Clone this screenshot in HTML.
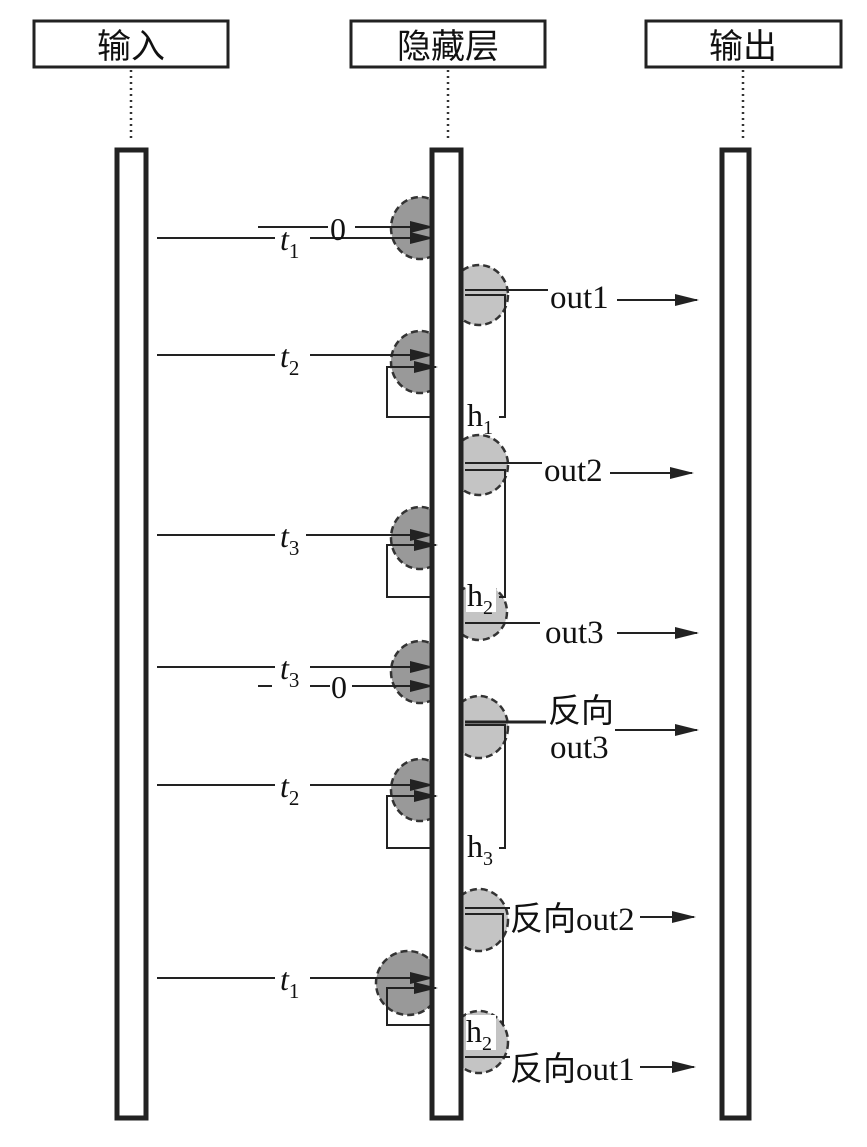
<!DOCTYPE html>
<html><head><meta charset="utf-8"><style>
html,body{margin:0;padding:0;background:#fff}
svg{display:block}
text{font-family:"Liberation Serif","Noto Serif CJK SC",serif;fill:#111}
.cn{font-family:"Liberation Serif","Noto Sans CJK SC",sans-serif}
</style></head><body>
<svg width="867" height="1147" viewBox="0 0 867 1147" xmlns="http://www.w3.org/2000/svg">
<defs>
<marker id="a" markerWidth="24" markerHeight="14" refX="22" refY="7" orient="auto" markerUnits="userSpaceOnUse">
<path d="M0,1 L24,7 L0,13 Z" fill="#222"/></marker>
</defs>
<g stroke="#222" stroke-width="3" fill="#fff">
<rect x="34" y="21" width="194" height="46"/>
<rect x="351" y="21" width="194" height="46"/>
<rect x="646" y="21" width="195" height="46"/>
</g>
<text x="131" y="58" font-size="34" text-anchor="middle" class="cn">输入</text>
<text x="448" y="58" font-size="34" text-anchor="middle" class="cn">隐藏层</text>
<text x="743" y="58" font-size="34" text-anchor="middle" class="cn">输出</text>
<g stroke="#333" stroke-width="2.5" stroke-dasharray="2,4">
<line x1="131" y1="70" x2="131" y2="140"/><line x1="448" y1="70" x2="448" y2="140"/><line x1="743" y1="70" x2="743" y2="140"/>
</g>
<g fill="#999" stroke="#333" stroke-width="2.5" stroke-dasharray="7,4">
<ellipse cx="420" cy="228" rx="29" ry="31"/><ellipse cx="420" cy="362" rx="29" ry="31"/><ellipse cx="420" cy="538" rx="29" ry="31"/>
<ellipse cx="420" cy="672" rx="29" ry="31"/><ellipse cx="420" cy="790" rx="29" ry="31"/><ellipse cx="408" cy="983" rx="32" ry="32"/>
</g>
<g fill="#c4c4c4" stroke="#333" stroke-width="2.5" stroke-dasharray="7,4">
<ellipse cx="479" cy="295" rx="29" ry="30"/><ellipse cx="479" cy="465" rx="29" ry="30"/><ellipse cx="479" cy="612" rx="28" ry="28"/>
<ellipse cx="479" cy="727" rx="29" ry="31"/><ellipse cx="479" cy="920" rx="29" ry="31"/><ellipse cx="479" cy="1042" rx="29" ry="31"/>
</g>
<g stroke="#222" stroke-width="5" fill="#fff">
<rect x="117" y="150" width="29" height="968"/>
<rect x="432" y="150" width="29" height="968"/>
<rect x="722" y="150" width="27" height="968"/>
</g>
<g stroke="#222" stroke-width="2" fill="none">
<line x1="157" y1="238" x2="275" y2="238"/><line x1="310" y1="238" x2="432" y2="238" marker-end="url(#a)"/>
<line x1="258" y1="227" x2="328" y2="227"/><line x1="355" y1="227" x2="432" y2="227" marker-end="url(#a)"/>
<line x1="157" y1="355" x2="275" y2="355"/><line x1="310" y1="355" x2="432" y2="355" marker-end="url(#a)"/>
<line x1="157" y1="535" x2="275" y2="535"/><line x1="306" y1="535" x2="432" y2="535" marker-end="url(#a)"/>
<line x1="157" y1="667" x2="275" y2="667"/><line x1="310" y1="667" x2="432" y2="667" marker-end="url(#a)"/>
<line x1="258" y1="686" x2="272" y2="686"/><line x1="310" y1="686" x2="330" y2="686"/><line x1="352" y1="686" x2="432" y2="686" marker-end="url(#a)"/>
<line x1="157" y1="785" x2="275" y2="785"/><line x1="310" y1="785" x2="432" y2="785" marker-end="url(#a)"/>
<line x1="157" y1="978" x2="275" y2="978"/><line x1="310" y1="978" x2="432" y2="978" marker-end="url(#a)"/>
<polyline points="432,417 387,417 387,367 436,367" marker-end="url(#a)"/>
<polyline points="432,597 387,597 387,545 436,545" marker-end="url(#a)"/>
<polyline points="432,848 387,848 387,796 436,796" marker-end="url(#a)"/>
<polyline points="432,1025 387,1025 387,988 436,988" marker-end="url(#a)"/>
<line x1="465" y1="290" x2="548" y2="290"/><polyline points="465,295 505,295 505,417 499,417"/>
<line x1="617" y1="300" x2="697" y2="300" marker-end="url(#a)"/>
<line x1="465" y1="463" x2="542" y2="463"/><polyline points="465,470 505,470 505,597 499,597"/>
<line x1="610" y1="473" x2="692" y2="473" marker-end="url(#a)"/>
<line x1="465" y1="623" x2="540" y2="623"/>
<line x1="617" y1="633" x2="697" y2="633" marker-end="url(#a)"/>
<line x1="465" y1="722" x2="546" y2="722" stroke-width="3"/><polyline points="465,725 505,725 505,848 499,848"/>
<line x1="615" y1="730" x2="697" y2="730" marker-end="url(#a)"/>
<line x1="465" y1="908" x2="510" y2="908"/><polyline points="465,914 503,914 503,1025"/>
<line x1="640" y1="917" x2="694" y2="917" marker-end="url(#a)"/>
<line x1="465" y1="1057" x2="510" y2="1057"/>
<line x1="640" y1="1067" x2="694" y2="1067" marker-end="url(#a)"/>
</g>
<g fill="#fff">
<rect x="466" y="400" width="30" height="32"/><rect x="466" y="580" width="30" height="32"/>
<rect x="466" y="831" width="30" height="32"/><rect x="466" y="1015" width="30" height="35"/>
</g>
<g font-size="32">
<text x="280" y="250" font-style="italic">t<tspan font-size="21" font-style="normal" dy="8">1</tspan></text>
<text x="330" y="240">0</text>
<text x="280" y="367" font-style="italic">t<tspan font-size="21" font-style="normal" dy="8">2</tspan></text>
<text x="280" y="547" font-style="italic">t<tspan font-size="21" font-style="normal" dy="8">3</tspan></text>
<text x="280" y="679" font-style="italic">t<tspan font-size="21" font-style="normal" dy="8">3</tspan></text>
<text x="331" y="698">0</text>
<text x="280" y="797" font-style="italic">t<tspan font-size="21" font-style="normal" dy="8">2</tspan></text>
<text x="280" y="990" font-style="italic">t<tspan font-size="21" font-style="normal" dy="8">1</tspan></text>
<text x="467" y="426">h<tspan font-size="20" dy="8">1</tspan></text>
<text x="467" y="606">h<tspan font-size="20" dy="8">2</tspan></text>
<text x="467" y="857">h<tspan font-size="20" dy="8">3</tspan></text>
<text x="466" y="1042">h<tspan font-size="20" dy="8">2</tspan></text>
<text x="550" y="308" font-size="33">out1</text>
<text x="544" y="481" font-size="33">out2</text>
<text x="545" y="643" font-size="33">out3</text>
<text x="548" y="722" font-size="33" class="cn">反向</text>
<text x="550" y="758" font-size="33">out3</text>
<text x="510" y="930" font-size="33" class="cn">反向out2</text>
<text x="510" y="1080" font-size="33" class="cn">反向out1</text>
</g>
</svg>
</body></html>
